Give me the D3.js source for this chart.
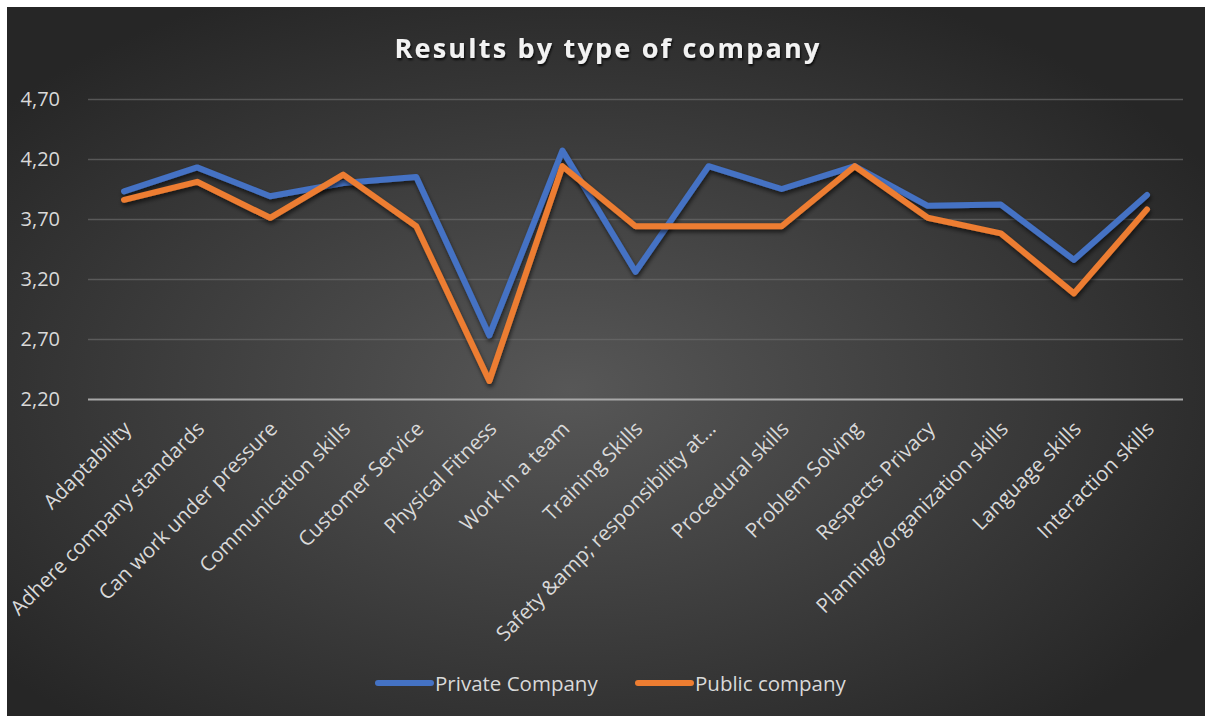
<!DOCTYPE html>
<html>
<head>
<meta charset="utf-8">
<script src="https://cdn.jsdelivr.net/npm/d3@7"></script>
<style>
  html, body { margin: 0; padding: 0; background: #ffffff; }
  svg { display: block; }
</style>
</head>
<body>
<svg id="chart" width="1205" height="716"></svg>
<script>
// Skill categories along the x axis
const categories = [
  "Adaptability",
  "Adhere company standards",
  "Can work under pressure",
  "Communication skills",
  "Customer Service",
  "Physical Fitness",
  "Work in a team",
  "Training Skills",
  "Safety &amp; responsibility at…",
  "Procedural skills",
  "Problem Solving",
  "Respects Privacy",
  "Planning/organization skills",
  "Language skills",
  "Interaction skills"
];

// Average scores per company type
const privateCompany = [3.93, 4.13, 3.89, 4.00, 4.05, 2.73, 4.27, 3.26, 4.14, 3.95, 4.14, 3.81, 3.82, 3.36, 3.90];
const publicCompany  = [3.86, 4.01, 3.71, 4.07, 3.64, 2.35, 4.14, 3.64, 3.64, 3.64, 4.14, 3.71, 3.58, 3.08, 3.78];

const seriesNames = ["Private Company", "Public company"];
const yTicks = [2.2, 2.7, 3.2, 3.7, 4.2, 4.7];

const W = 1205, H = 716;
const svg = d3.select("#chart");
const defs = svg.append("defs");

// Dark radial backdrop
const grad = defs.append("radialGradient")
  .attr("id", "bg").attr("cx", "47%").attr("cy", "54%").attr("r", "62%");
grad.append("stop").attr("offset", "0%").attr("stop-color", "#575757");
grad.append("stop").attr("offset", "100%").attr("stop-color", "#262626");

const shadow = defs.append("filter").attr("id", "shadow")
  .attr("x", "-10%").attr("y", "-10%").attr("width", "120%").attr("height", "130%");
shadow.append("feDropShadow").attr("dx", 1).attr("dy", 3).attr("stdDeviation", 2.2)
  .attr("flood-color", "#000").attr("flood-opacity", 0.6);

const tshadow = defs.append("filter").attr("id", "tshadow");
tshadow.append("feDropShadow").attr("dx", 1).attr("dy", 2).attr("stdDeviation", 1.2)
  .attr("flood-color", "#000").attr("flood-opacity", 0.8);

svg.append("rect").attr("x", 7).attr("y", 7).attr("width", W - 7).attr("height", H - 7)
  .attr("fill", "url(#bg)");

const x = d3.scalePoint().domain(categories).range([124, 1147]);
const y = d3.scaleLinear().domain([2.2, 4.7]).range([399, 99]);

const font = "'Open Sans', 'Noto Sans', sans-serif";
const fmt = v => d3.format(".2f")(v).replace(".", ",");

// Title
svg.append("text")
  .attr("x", 608).attr("y", 58)
  .attr("text-anchor", "middle")
  .attr("fill", "#f2f2f2")
  .attr("font-family", font)
  .attr("font-weight", 700)
  .attr("font-size", 27)
  .attr("letter-spacing", 2.2)
  .attr("filter", "url(#tshadow)")
  .text("Results by type of company");

// Gridlines and y labels
const yAxis = d3.axisLeft(y).tickValues(yTicks).tickFormat(fmt)
  .tickSize(-(1183 - 88)).tickPadding(28);
const gy = svg.append("g").attr("transform", "translate(88,0)").call(yAxis);
gy.select(".domain").remove();
gy.selectAll(".tick line")
  .attr("stroke", d => d === 2.2 ? "#a8a8a8" : "#6a6a6a")
  .attr("stroke-width", d => d === 2.2 ? 2 : 1.3)
  .attr("stroke-opacity", d => d === 2.2 ? 1 : 0.7);
gy.selectAll(".tick text")
  .attr("fill", "#d9d9d9")
  .attr("font-family", font)
  .attr("font-size", 20);

// Category labels, rotated
const xAxis = d3.axisBottom(x).tickSize(0).tickPadding(0);
const gx = svg.append("g").attr("transform", "translate(0,399)").call(xAxis);
gx.select(".domain").remove();
gx.selectAll(".tick text")
  .attr("fill", "#d9d9d9")
  .attr("font-family", font)
  .attr("font-size", 20.5)
  .attr("text-anchor", "end")
  .attr("dy", 0)
  .attr("transform", "translate(8,31) rotate(-45)");

// Lines
const line = d3.line().x((d, i) => x(categories[i])).y(d => y(d));
const colors = ["#4472c4", "#ed7d31"];
[privateCompany, publicCompany].forEach((vals, k) => {
  svg.append("path")
    .datum(vals)
    .attr("d", line)
    .attr("fill", "none")
    .attr("stroke", colors[k])
    .attr("stroke-width", 6)
    .attr("stroke-linejoin", "round")
    .attr("stroke-linecap", "round")
    .attr("filter", "url(#shadow)");
});

// Legend
const legendX = [376, 636];
seriesNames.forEach((name, k) => {
  const g = svg.append("g").attr("transform", `translate(${legendX[k]},683)`);
  g.append("line").attr("x1", 2).attr("x2", 55).attr("y1", 0).attr("y2", 0)
    .attr("stroke", colors[k]).attr("stroke-width", 6).attr("stroke-linecap", "round");
  g.append("text").attr("x", 59).attr("y", 7.5)
    .attr("fill", "#d9d9d9").attr("font-family", font).attr("font-size", 20.5)
    .text(name);
});
</script>
</body>
</html>
